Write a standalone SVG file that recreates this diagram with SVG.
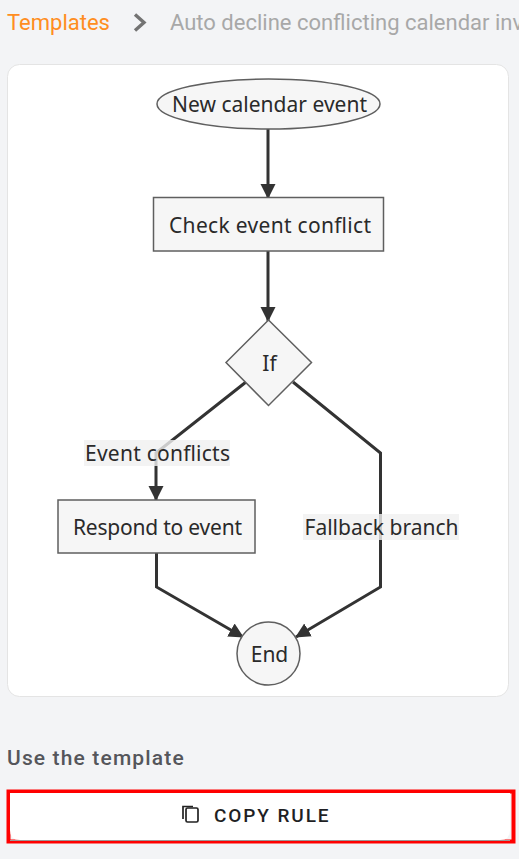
<svg xmlns="http://www.w3.org/2000/svg" width="519" height="859" viewBox="0 0 519 859">
<style>
.n{fill:#f6f6f6;stroke:#5f5f5f;stroke-width:1.5}
.t{font-family:"Noto Sans",sans-serif;font-size:21px;fill:#2a2a2a;text-anchor:middle}
.e{fill:none;stroke:#333;stroke-width:3}
.l{fill:#f0f0f0;fill-opacity:.8}
.r{font-family:Roboto,sans-serif}
</style>
<defs><marker id="a" markerUnits="userSpaceOnUse" markerWidth="16" markerHeight="16" refX="14" refY="7.5" orient="auto"><path d="M0 0L15 7.5L0 15Z" fill="#333"/></marker></defs>
<rect width="519" height="859" fill="#f3f4f6"/>
<g id="breadcrumb">
<text class="r" x="7" y="30" font-size="22" fill="#ff8d21">Templates</text>
<path d="M135 14.500L144 22.500L135 30.500" fill="none" stroke="#737373" stroke-width="3.400"/>
<text class="r" x="170" y="30" font-size="22" fill="#a8a8a8">Auto decline conflicting calendar inv</text>
</g>
<rect id="card" x="7.500" y="64.500" width="501" height="632" rx="12" fill="#fff" stroke="#e4e4e4"/>
<g id="connectors">
<path class="e" d="M268 129V198" marker-end="url(#a)"/>
<path class="e" d="M268 251V321" marker-end="url(#a)"/>
<path class="e" d="M246 382L156 453V500" marker-end="url(#a)"/>
<path class="e" d="M293 382L380.500 453V587L296 637" marker-end="url(#a)"/>
<path class="e" d="M156.500 553V587L243 637" marker-end="url(#a)"/>
</g>
<g id="label-conflicts"><rect class="l" x="84" y="440" width="146" height="26"/><text class="t" x="157.500" y="461" textLength="145">Event conflicts</text></g>
<g id="label-fallback"><rect class="l" x="303" y="514" width="156" height="26"/><text class="t" x="381.500" y="535" textLength="154">Fallback branch</text></g>
<g id="n-start"><ellipse class="n" cx="268.500" cy="104" rx="111.500" ry="25"/><text class="t" x="269.500" y="111.500" textLength="195">New calendar event</text></g>
<g id="n-check"><rect class="n" x="153.500" y="197.500" width="230" height="53.500"/><text class="t" x="270" y="233" textLength="202">Check event conflict</text></g>
<g id="n-if"><path class="n" d="M268.500 320L311.500 362.500L268.500 405.500L226 362.500Z"/><text class="t" x="269.500" y="371">If</text></g>
<g id="n-respond"><rect class="n" x="58" y="500" width="197" height="53"/><text class="t" x="157.500" y="535" textLength="169">Respond to event</text></g>
<g id="n-end"><circle class="n" cx="268.500" cy="653.500" r="31.500"/><text class="t" x="269.500" y="662">End</text></g>
<text class="r" x="7" y="764.500" font-size="21" font-weight="500" letter-spacing="1.150" fill="#55565b">Use the template</text>
<g id="copy-button">
<rect x="8.500" y="791.500" width="505" height="50" fill="none" stroke="#f00" stroke-width="4"/>
<path d="M10 793H510V830Q510 840 500 840H20Q10 840 10 830Z" fill="#fff"/>
<path d="M10 840.500H510" stroke="#999" stroke-width="1"/>
<rect x="186" y="808" width="12" height="14" rx="1.500" fill="none" stroke="#222" stroke-width="1.700"/>
<path d="M183 819V806.500H193" fill="none" stroke="#222" stroke-width="1.700"/>
<text class="r" x="214" y="822" font-size="19" font-weight="500" letter-spacing="1.900" fill="#1f1f24">COPY RULE</text>
</g>
</svg>
